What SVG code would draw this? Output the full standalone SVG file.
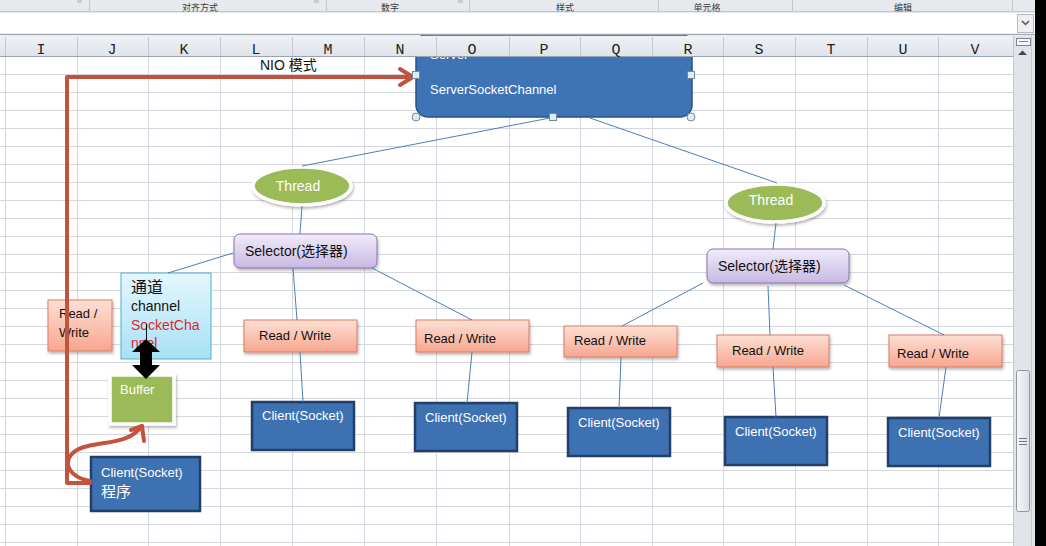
<svg xmlns="http://www.w3.org/2000/svg" width="1046" height="546" viewBox="0 0 1046 546">
  <style>
    .lbl { font-family: "Liberation Sans", "Noto Sans CJK SC", sans-serif; font-size: 13px; }
    .wht { fill: #ffffff; }
    .blk { fill: #111111; }
    .col { font-family: "Liberation Mono", monospace; font-size: 15px; fill: #222222; text-anchor: middle; }
    .rib { font-family: "Noto Sans CJK SC", sans-serif; font-size: 9px; fill: #3a3a3a; text-anchor: middle; }
    .grid line { stroke: #d4d8de; stroke-width: 1; }
    .hsep line { stroke: #c2c8d0; stroke-width: 1; }
    .link { stroke: #4a7ebb; stroke-width: 1; fill: none; }
    .flow { stroke: #c4533d; stroke-width: 4; fill: none; stroke-linejoin: round; stroke-linecap: round; }
    .rw { fill: url(#gRw); stroke: #d77e66; stroke-width: 1; filter: url(#sh); }
    .client { fill: #3e71b1; stroke: #213f68; stroke-width: 2.5; }
    .green { fill: #9bbb59; stroke: #ffffff; stroke-width: 3.5; filter: url(#sh); }
    .sel { fill: url(#gSel); stroke: #8a74ae; stroke-width: 1; filter: url(#sh); }
    .handle { fill: #dcedf7; stroke: #7b8894; stroke-width: 1; }
  </style>
  <defs>
    <linearGradient id="gRw" x1="0" y1="0" x2="0" y2="1">
      <stop offset="0" stop-color="#fde0d5"/>
      <stop offset="1" stop-color="#f7a68f"/>
    </linearGradient>
    <linearGradient id="gSel" x1="0" y1="0" x2="0" y2="1">
      <stop offset="0" stop-color="#f1ecfa"/>
      <stop offset="1" stop-color="#c7b8e2"/>
    </linearGradient>
    <linearGradient id="gChan" x1="0" y1="0" x2="0" y2="1">
      <stop offset="0" stop-color="#e4f7fd"/>
      <stop offset="1" stop-color="#a6e1f5"/>
    </linearGradient>
    <linearGradient id="gHead" x1="0" y1="0" x2="0" y2="1">
      <stop offset="0" stop-color="#eef1f5"/>
      <stop offset="1" stop-color="#dfe4ea"/>
    </linearGradient>
    <linearGradient id="gThumb" x1="0" y1="0" x2="1" y2="0">
      <stop offset="0" stop-color="#f6f7f9"/>
      <stop offset="1" stop-color="#dadee4"/>
    </linearGradient>
    <filter id="sh" x="-20%" y="-20%" width="150%" height="160%">
      <feDropShadow dx="1" dy="2" stdDeviation="1.5" flood-color="#000000" flood-opacity="0.3"/>
    </filter>
  </defs>

  <!-- sheet background and cell grid -->
  <rect x="0" y="0" width="1046" height="546" fill="#ffffff"/>
  <g class="grid">
    <line x1="5.5" y1="56" x2="5.5" y2="546"/>
    <line x1="77.5" y1="56" x2="77.5" y2="546"/>
    <line x1="148.5" y1="56" x2="148.5" y2="546"/>
    <line x1="220.5" y1="56" x2="220.5" y2="546"/>
    <line x1="292.5" y1="56" x2="292.5" y2="546"/>
    <line x1="364.5" y1="56" x2="364.5" y2="546"/>
    <line x1="436.5" y1="56" x2="436.5" y2="546"/>
    <line x1="509.5" y1="56" x2="509.5" y2="546"/>
    <line x1="580.5" y1="56" x2="580.5" y2="546"/>
    <line x1="652.5" y1="56" x2="652.5" y2="546"/>
    <line x1="723.5" y1="56" x2="723.5" y2="546"/>
    <line x1="795.5" y1="56" x2="795.5" y2="546"/>
    <line x1="867.5" y1="56" x2="867.5" y2="546"/>
    <line x1="938.5" y1="56" x2="938.5" y2="546"/>
    <line x1="0" y1="74.5" x2="1013" y2="74.5"/>
    <line x1="0" y1="92.5" x2="1013" y2="92.5"/>
    <line x1="0" y1="110.5" x2="1013" y2="110.5"/>
    <line x1="0" y1="128.5" x2="1013" y2="128.5"/>
    <line x1="0" y1="146.5" x2="1013" y2="146.5"/>
    <line x1="0" y1="164.5" x2="1013" y2="164.5"/>
    <line x1="0" y1="182.5" x2="1013" y2="182.5"/>
    <line x1="0" y1="200.5" x2="1013" y2="200.5"/>
    <line x1="0" y1="218.5" x2="1013" y2="218.5"/>
    <line x1="0" y1="236.5" x2="1013" y2="236.5"/>
    <line x1="0" y1="254.5" x2="1013" y2="254.5"/>
    <line x1="0" y1="272.5" x2="1013" y2="272.5"/>
    <line x1="0" y1="290.5" x2="1013" y2="290.5"/>
    <line x1="0" y1="308.5" x2="1013" y2="308.5"/>
    <line x1="0" y1="326.5" x2="1013" y2="326.5"/>
    <line x1="0" y1="344.5" x2="1013" y2="344.5"/>
    <line x1="0" y1="362.5" x2="1013" y2="362.5"/>
    <line x1="0" y1="380.5" x2="1013" y2="380.5"/>
    <line x1="0" y1="398.5" x2="1013" y2="398.5"/>
    <line x1="0" y1="416.5" x2="1013" y2="416.5"/>
    <line x1="0" y1="434.5" x2="1013" y2="434.5"/>
    <line x1="0" y1="452.5" x2="1013" y2="452.5"/>
    <line x1="0" y1="470.5" x2="1013" y2="470.5"/>
    <line x1="0" y1="488.5" x2="1013" y2="488.5"/>
    <line x1="0" y1="506.5" x2="1013" y2="506.5"/>
    <line x1="0" y1="524.5" x2="1013" y2="524.5"/>
    <line x1="0" y1="542.5" x2="1013" y2="542.5"/>
  </g>

  <!-- server -->
  <g id="server">
    <rect x="416" y="34" width="276" height="83" rx="12" fill="#3e73b5" stroke="#2a5184" stroke-width="1.5"/>
    <text class="lbl wht" x="430" y="59">Server</text>
    <text class="lbl wht" x="430" y="94">ServerSocketChannel</text>
  </g>

  <g id="thread-1">
    <ellipse class="green" cx="302" cy="186" rx="49" ry="19"/>
    <text class="lbl wht" x="298" y="191" text-anchor="middle" style="font-size:14px">Thread</text>
  </g>
  <g id="thread-2">
    <ellipse class="green" cx="775" cy="203" rx="49" ry="19"/>
    <text class="lbl wht" x="771" y="205" text-anchor="middle" style="font-size:14px">Thread</text>
  </g>

  <g id="selector-1">
    <rect class="sel" x="234" y="234" width="143" height="34" rx="6"/>
    <text class="lbl blk" x="245" y="256" style="font-size:14px">Selector(选择器)</text>
  </g>
  <g id="selector-2">
    <rect class="sel" x="707" y="249" width="142" height="34" rx="6"/>
    <text class="lbl blk" x="718" y="271" style="font-size:14px">Selector(选择器)</text>
  </g>

  <g id="rw-1">
    <rect class="rw" x="244" y="320" width="113" height="32"/>
    <text class="lbl blk" x="259" y="340">Read / Write</text>
  </g>
  <g id="rw-2">
    <rect class="rw" x="416" y="320" width="113" height="32"/>
    <text class="lbl blk" x="424" y="343">Read / Write</text>
  </g>
  <g id="rw-3">
    <rect class="rw" x="564" y="326" width="113" height="31"/>
    <text class="lbl blk" x="574" y="345">Read / Write</text>
  </g>
  <g id="rw-4">
    <rect class="rw" x="717" y="335" width="112" height="32"/>
    <text class="lbl blk" x="732" y="355">Read / Write</text>
  </g>
  <g id="rw-5">
    <rect class="rw" x="889" y="335" width="113" height="32"/>
    <text class="lbl blk" x="897" y="358">Read / Write</text>
  </g>

  <g id="client-1">
    <rect class="client" x="252" y="402" width="102" height="48"/>
    <text class="lbl wht" x="262" y="420">Client(Socket)</text>
  </g>
  <g id="client-2">
    <rect class="client" x="415" y="403" width="102" height="48"/>
    <text class="lbl wht" x="425" y="422">Client(Socket)</text>
  </g>
  <g id="client-3">
    <rect class="client" x="568" y="408" width="102" height="48"/>
    <text class="lbl wht" x="578" y="427">Client(Socket)</text>
  </g>
  <g id="client-4">
    <rect class="client" x="725" y="417" width="102" height="48"/>
    <text class="lbl wht" x="735" y="436">Client(Socket)</text>
  </g>
  <g id="client-5">
    <rect class="client" x="888" y="418" width="102" height="48"/>
    <text class="lbl wht" x="898" y="437">Client(Socket)</text>
  </g>

  <g id="channel">
    <rect x="121" y="273" width="90" height="86" fill="url(#gChan)" stroke="#4fb0cf" stroke-width="1"/>
    <text class="lbl blk" x="131" y="293" style="font-size:16px">通道</text>
    <text class="lbl blk" x="131" y="311" style="font-size:14px">channel</text>
    <text class="lbl" x="131" y="330" fill="#e0262a" style="font-size:14px">SocketCha</text>
    <text class="lbl" x="131" y="348" fill="#e0262a" style="font-size:14px">nnel</text>
    <line x1="146.5" y1="324" x2="146.5" y2="340" stroke="#111111" stroke-width="1"/>
  </g>

  <g id="buffer">
    <rect class="green" x="110" y="375" width="64" height="49"/>
    <text class="lbl wht" x="120" y="394">Buffer</text>
  </g>

  <g id="rw-client">
    <rect class="rw" x="48" y="300" width="64" height="51"/>
    <text class="lbl blk" x="59" y="318">Read /</text>
    <text class="lbl blk" x="59" y="337">Write</text>
  </g>

  <g id="client-app">
    <rect class="client" x="91" y="457" width="109" height="54"/>
    <text class="lbl wht" x="101" y="477">Client(Socket)</text>
    <text class="lbl wht" x="101" y="497" style="font-size:15px">程序</text>
  </g>

  <!-- connectors -->
  <g id="connectors">
    <line class="link" x1="550" y1="118" x2="302" y2="166"/>
    <line class="link" x1="590" y1="118" x2="777" y2="183"/>
    <line class="link" x1="302" y1="206" x2="300" y2="234"/>
    <line class="link" x1="776" y1="223" x2="773" y2="249"/>
    <line class="link" x1="233" y1="253" x2="168" y2="273"/>
    <line class="link" x1="293" y1="268" x2="297" y2="320"/>
    <line class="link" x1="372" y1="268" x2="472" y2="320"/>
    <line class="link" x1="300" y1="352" x2="303" y2="402"/>
    <line class="link" x1="472" y1="352" x2="467" y2="403"/>
    <line class="link" x1="703" y1="283" x2="622" y2="326"/>
    <line class="link" x1="768" y1="286" x2="770" y2="335"/>
    <line class="link" x1="844" y1="285" x2="944" y2="335"/>
    <line class="link" x1="621" y1="357" x2="619" y2="408"/>
    <line class="link" x1="773" y1="367" x2="776" y2="417"/>
    <line class="link" x1="946" y1="367" x2="939" y2="418"/>
    <!-- channel to buffer -->
    <polygon points="146,339 160,352 152,352 152,365 160,365 146,379 132,365 140,365 140,352 132,352" fill="#000000"/>
    <!-- client program to server -->
    <polyline class="flow" points="90,483 67,483 67,77 412,77"/>
    <polyline class="flow" points="400,69 413,77 400,85"/>
    <!-- client program to buffer -->
    <path class="flow" d="M90,481 C62,476 60,452 88,446 C112,441 130,442 142,426"/>
    <polyline class="flow" points="131,430 142,426 144,441"/>
    <text class="lbl blk" x="260" y="70" style="font-size:14px">NIO 模式</text>
  </g>

  <!-- selection handles on the server shape -->
  <g id="handles">
    <rect class="handle" x="412.5" y="71.5" width="7" height="7"/>
    <rect class="handle" x="687.5" y="71.5" width="7" height="7"/>
    <rect class="handle" x="549.5" y="113.5" width="7" height="7"/>
    <circle class="handle" cx="416" cy="117" r="4"/>
    <circle class="handle" cx="691" cy="117" r="4"/>
  </g>

  <!-- ribbon strip -->
  <rect x="0" y="0" width="1046" height="12" fill="#e6eaef"/>
  <g class="hsep">
    <line x1="89.5" y1="0" x2="89.5" y2="11"/>
    <line x1="326.5" y1="0" x2="326.5" y2="11"/>
    <line x1="469.5" y1="0" x2="469.5" y2="11"/>
    <line x1="658.5" y1="0" x2="658.5" y2="11"/>
    <line x1="792.5" y1="0" x2="792.5" y2="11"/>
    <line x1="1012.5" y1="0" x2="1012.5" y2="11"/>
  </g>
  <rect x="77" y="0" width="5" height="3" fill="#c8cdd3"/>
  <rect x="314" y="0" width="5" height="3" fill="#c8cdd3"/>
  <rect x="458" y="0" width="5" height="3" fill="#c8cdd3"/>
  <text class="rib" x="200" y="10.5">对齐方式</text>
  <text class="rib" x="390" y="10.5">数字</text>
  <text class="rib" x="565" y="10.5">样式</text>
  <text class="rib" x="707" y="10.5">单元格</text>
  <text class="rib" x="903" y="10.5">编辑</text>
  <line x1="0" y1="12" x2="1046" y2="12" stroke="#9ea4ab" stroke-width="1"/>

  <!-- formula bar -->
  <rect x="0" y="12.5" width="1046" height="21.5" fill="#ffffff"/>
  <rect x="1017.5" y="14.5" width="16" height="18" fill="#eef0f3" stroke="#b4bac2" stroke-width="1"/>
  <polyline points="1022,21 1025.5,24.5 1029,21" fill="none" stroke="#555555" stroke-width="1.5"/>
  <line x1="0" y1="34.5" x2="1046" y2="34.5" stroke="#a3a9b1" stroke-width="1.5"/>

  <!-- column headers -->
  <rect x="0" y="36" width="1013" height="20" fill="url(#gHead)"/>
  <g class="hsep">
    <line x1="5.5" y1="37" x2="5.5" y2="56"/>
    <line x1="77.5" y1="37" x2="77.5" y2="56"/>
    <line x1="148.5" y1="37" x2="148.5" y2="56"/>
    <line x1="220.5" y1="37" x2="220.5" y2="56"/>
    <line x1="292.5" y1="37" x2="292.5" y2="56"/>
    <line x1="364.5" y1="37" x2="364.5" y2="56"/>
    <line x1="436.5" y1="37" x2="436.5" y2="56"/>
    <line x1="509.5" y1="37" x2="509.5" y2="56"/>
    <line x1="580.5" y1="37" x2="580.5" y2="56"/>
    <line x1="652.5" y1="37" x2="652.5" y2="56"/>
    <line x1="723.5" y1="37" x2="723.5" y2="56"/>
    <line x1="795.5" y1="37" x2="795.5" y2="56"/>
    <line x1="867.5" y1="37" x2="867.5" y2="56"/>
    <line x1="938.5" y1="37" x2="938.5" y2="56"/>
  </g>
  <line x1="0" y1="56.5" x2="1013" y2="56.5" stroke="#9aa4b1" stroke-width="1"/>
  <text class="col" x="41" y="54">I</text>
  <text class="col" x="112" y="54">J</text>
  <text class="col" x="184" y="54">K</text>
  <text class="col" x="256" y="54">L</text>
  <text class="col" x="328" y="54">M</text>
  <text class="col" x="400" y="54">N</text>
  <text class="col" x="472" y="54">O</text>
  <text class="col" x="544" y="54">P</text>
  <text class="col" x="616" y="54">Q</text>
  <text class="col" x="688" y="54">R</text>
  <text class="col" x="759" y="54">S</text>
  <text class="col" x="831" y="54">T</text>
  <text class="col" x="903" y="54">U</text>
  <text class="col" x="975" y="54">V</text>

  <!-- vertical scroll bar -->
  <rect x="1013" y="36" width="22" height="510" fill="#e1e5ea"/>
  <line x1="1013.5" y1="36" x2="1013.5" y2="546" stroke="#c3c9d1" stroke-width="1"/>
  <line x1="1031.5" y1="36" x2="1031.5" y2="546" stroke="#c3c9d1" stroke-width="1"/>
  <rect x="1016.5" y="38.5" width="14" height="7" fill="#f6f7f9" stroke="#7c8591" stroke-width="1"/>
  <line x1="1019" y1="41.5" x2="1028" y2="41.5" stroke="#7c8591" stroke-width="1"/>
  <polygon points="1018,55 1027,55 1022.5,50.5" fill="#3f4650"/>
  <rect x="1016.5" y="370.5" width="13" height="141" rx="2" fill="url(#gThumb)" stroke="#8e97a2" stroke-width="1"/>
  <line x1="1019" y1="438.5" x2="1027" y2="438.5" stroke="#6f7884" stroke-width="1"/>
  <line x1="1019" y1="441.5" x2="1027" y2="441.5" stroke="#6f7884" stroke-width="1"/>
  <line x1="1019" y1="444.5" x2="1027" y2="444.5" stroke="#6f7884" stroke-width="1"/>

  <!-- window edge -->
  <rect x="1035" y="0" width="11" height="546" fill="#000000"/>
</svg>
